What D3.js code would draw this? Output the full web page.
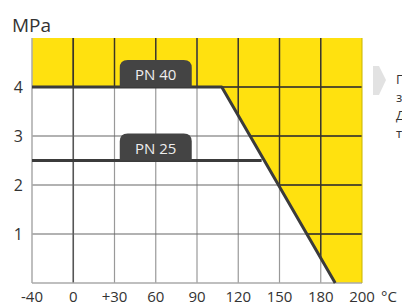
<!DOCTYPE html>
<html lang="ru">
<head>
<meta charset="UTF-8" />
<title>PN 40 / PN 25</title>
<script src="https://cdn.jsdelivr.net/npm/d3@7"></script>
<style>
  body { margin: 0; background: #fff; overflow: hidden; }
  text { font-family: "Open Sans", sans-serif; }
</style>
</head>
<body>
<script>
// data
var xTicks = [-40, 0, 30, 60, 90, 120, 150, 180, 200];
var xLabels = ["-40", "0", "+30", "60", "90", "120", "150", "180", "200"];
var yTicks = [1, 2, 3, 4];
var pn40 = [[-40, 4], [108, 4], [187, 0]];
var pn25 = [[-40, 2.5], [137, 2.5]];
var seriesNames = ["PN 40", "PN 25"];
var labelAt = [[60, 4], [60, 2.5]];
var sideText = ["Пример", "зависимости", "Давления от", "температуры"];

var w = 402, h = 305;
var pLeft = 32, pRight = 362, pTop = 38, pBottom = 283;

var svg = d3.select("body").append("svg").attr("width", w).attr("height", h);

// ticks are evenly spaced, so a piecewise scale
var step = (pRight - pLeft) / (xTicks.length - 1);
var x = d3.scaleLinear().domain(xTicks).range(xTicks.map(function(d, i) { return pLeft + i * step; }));
var y = d3.scaleLinear().domain([0, 5]).range([pBottom, pTop]);

var line = d3.line().x(function(d) { return x(d[0]); }).y(function(d) { return y(d[1]); });

// yellow zone above / right of PN 40
var zone = [[-40, 5], [200, 5], [200, 0]].concat(pn40.slice().reverse());
svg.append("defs").append("clipPath").attr("id", "zone")
   .append("path").attr("d", line(zone) + "Z");
svg.append("path").attr("d", line(zone) + "Z").attr("fill", "#ffe10f");

// grid in white area
var grid = svg.append("g");
grid.selectAll("line.v").data(xTicks.slice(1, -1)).enter().append("line")
    .attr("x1", function(d) { return x(d); }).attr("x2", function(d) { return x(d); })
    .attr("y1", pTop).attr("y2", pBottom)
    .attr("stroke", function(d) { return d == 0 ? "#555" : "#999"; })
    .attr("stroke-width", function(d) { return d == 0 ? 1.6 : 1.2; });
grid.selectAll("line.h").data(yTicks).enter().append("line")
    .attr("x1", pLeft).attr("x2", pRight)
    .attr("y1", function(d) { return y(d); }).attr("y2", function(d) { return y(d); })
    .attr("stroke", "#666").attr("stroke-width", 1.2);

// darker grid over yellow
var dgrid = svg.append("g").attr("clip-path", "url(#zone)");
dgrid.selectAll("line.v").data(xTicks.slice(1, -1)).enter().append("line")
    .attr("x1", function(d) { return x(d); }).attr("x2", function(d) { return x(d); })
    .attr("y1", pTop).attr("y2", pBottom)
    .attr("stroke", "#3a3420").attr("stroke-width", 1.4);
dgrid.selectAll("line.h").data(yTicks).enter().append("line")
    .attr("x1", pLeft).attr("x2", pRight)
    .attr("y1", function(d) { return y(d); }).attr("y2", function(d) { return y(d); })
    .attr("stroke", "#3a3420").attr("stroke-width", 1.4);

// frame
svg.append("line").attr("x1", pLeft).attr("x2", pLeft).attr("y1", pTop).attr("y2", pBottom)
   .attr("stroke", "#aaa").attr("stroke-width", 1.5);
svg.append("line").attr("x1", pLeft).attr("x2", pRight).attr("y1", pBottom).attr("y2", pBottom)
   .attr("stroke", "#aaa").attr("stroke-width", 1.5);
svg.append("line").attr("x1", pRight).attr("x2", pRight).attr("y1", pTop).attr("y2", pBottom)
   .attr("stroke", "#c8b400").attr("stroke-width", 1);

// pressure lines
[pn40, pn25].forEach(function(s) {
  svg.append("path").attr("d", line(s)).attr("fill", "none")
     .attr("stroke", "#3b3b3b").attr("stroke-width", 3).attr("stroke-linejoin", "round");
});

// labels with rounded tops
var bw = 72, bh = 27, r = 8;
labelAt.forEach(function(p, i) {
  var cx = x(p[0]), by = y(p[1]);
  var x0 = cx - bw / 2, x1 = cx + bw / 2, y0 = by - bh;
  svg.append("path")
     .attr("d", "M" + x0 + "," + by + "V" + (y0 + r) + "Q" + x0 + "," + y0 + " " + (x0 + r) + "," + y0 +
                "H" + (x1 - r) + "Q" + x1 + "," + y0 + " " + x1 + "," + (y0 + r) + "V" + by + "Z")
     .attr("fill", "#444");
  svg.append("text").attr("x", cx).attr("y", by - 7).attr("text-anchor", "middle")
     .attr("font-size", 15).attr("fill", "#eee").text(seriesNames[i]);
});

// axes text
svg.append("text").attr("x", 12).attr("y", 32).attr("font-size", 19).attr("fill", "#333").text("MPa");
svg.selectAll("text.yt").data(yTicks).enter().append("text")
   .attr("x", 23).attr("y", function(d) { return y(d) + 6; })
   .attr("text-anchor", "end").attr("font-size", 16).attr("fill", "#333")
   .text(function(d) { return d; });
svg.selectAll("text.xt").data(xTicks).enter().append("text")
   .attr("x", function(d) { return x(d); }).attr("y", 302)
   .attr("text-anchor", "middle").attr("font-size", 15).attr("fill", "#333")
   .text(function(d, i) { return xLabels[i]; });
svg.append("text").attr("x", 381).attr("y", 302).attr("font-size", 15).attr("fill", "#333").text("°C");

// side note (cut off by the window)
svg.append("path").attr("d", "M373,66H379L386,80L379,95H373Z").attr("fill", "#e2e2e2");
svg.selectAll("text.side").data(sideText).enter().append("text")
   .attr("x", 396).attr("y", function(d, i) { return 84 + i * 18; })
   .attr("font-size", 13).attr("fill", "#333")
   .text(function(d) { return d; });
</script>
</body>
</html>
